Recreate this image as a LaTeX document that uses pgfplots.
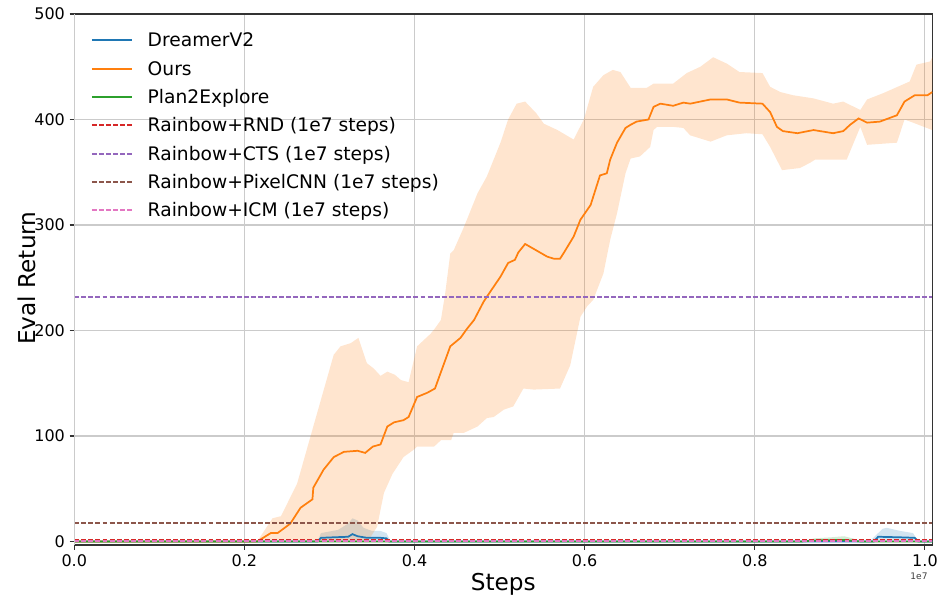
\documentclass[border=0pt]{standalone}
\usepackage{pgfplots}
\pgfplotsset{compat=1.18}
\usepackage{fontspec}
\setmainfont{DejaVu Sans}
\usetikzlibrary{calc}
\definecolor{tabBlue}{HTML}{1F77B4}
\definecolor{tabOrange}{HTML}{FF7F0E}
\definecolor{tabGreen}{HTML}{2CA02C}
\definecolor{tabRed}{HTML}{D62728}
\definecolor{tabPurple}{HTML}{9467BD}
\definecolor{tabBrown}{HTML}{8C564B}
\definecolor{tabPink}{HTML}{E377C2}
\definecolor{gridgray}{HTML}{CBCBCB}
\begin{document}
\begin{tikzpicture}
\begin{axis}[
  scale only axis,
  width=643.5pt, height=398.25pt,
  xmin=0, xmax=1.0086, ymin=-3.3, ymax=500,
  xtick={0,0.2,0.4,0.6,0.8,1.0},
  xticklabels={0.0,0.2,0.4,0.6,0.8,1.0},
  ytick={0,100,200,300,400,500},
  /pgf/number format/assume math mode=true,
  tick label style={font=\fontsize{12}{14}\selectfont},
  xtick pos=lower, ytick pos=left,
  tick align=outside,
  major tick length=3.5pt,
  tick style={black!80, line width=0.8pt},
  axis line style={black!80, line width=0.8pt},
  grid=major,
  major grid style={gridgray, line width=0.8pt},
  legend style={draw=none, fill=none, at={(axis description cs:0,1)}, anchor=north west,
    xshift=12.3pt, yshift=-13.5pt, inner sep=0pt,
    font=\fontsize{14}{16.8}\selectfont, row sep=7.25pt,
    nodes={inner sep=0pt, text height=11pt, text depth=3pt},
    /tikz/every odd column/.append style={column sep=11pt}},
  legend cell align=left,
  legend image code/.code={\draw[#1, line width=1.4pt] (0pt,1pt) -- (30.2pt,1pt);},
]
% bands
\addplot[draw=none, fill=tabBlue, fill opacity=0.2, forget plot] coordinates {
(0.286,0)(0.290,8)(0.310,11)(0.322,17)(0.327,22)(0.333,20)(0.340,13)(0.350,10)(0.360,10)(0.367,8)(0.372,0)} -- cycle;
\addplot[draw=none, fill=tabBlue, fill opacity=0.2, forget plot] coordinates {
(0.935,0)(0.945,8)(0.950,12)(0.955,13)(0.971,10)(0.986,8)(0.992,0)} -- cycle;
\addplot[draw=none, fill=tabOrange, fill opacity=0.2, forget plot] coordinates {
(0.215,0)(0.233,22)(0.243,24)(0.262,55)(0.281,109)(0.293,143)(0.305,177)(0.313,185)(0.325,188)(0.334,193)
(0.344,169)(0.352,164)(0.360,157)(0.368,161)(0.377,158)(0.384,153)(0.393,151)(0.403,185)(0.419,197)(0.424,202)
(0.431,210)(0.436,235)(0.442,273)(0.446,276)(0.458,298)(0.474,330)(0.485,346)(0.501,378)(0.510,400)(0.520,415)
(0.530,417)(0.543,406)(0.552,396)(0.568,390)(0.587,381)(0.599,400)(0.610,431)(0.622,442)(0.633,447)(0.642,445)
(0.654,430)(0.673,430)(0.681,434)(0.704,434)(0.720,444)(0.736,450)(0.751,459)(0.767,453)(0.782,445)(0.809,444)
(0.818,431)(0.830,426)(0.845,423)(0.869,420)(0.892,415)(0.904,417)(0.924,409)(0.932,419)(0.951,425)(0.982,436)
(0.990,452)(1.006,455)(1.0086,459)
(1.0086,390)(1.002,392)(0.986,397)(0.976,400)(0.967,378)(0.932,376)(0.924,393)(0.908,362)(0.871,362)(0.865,359)
(0.853,354)(0.832,352)(0.818,374)(0.809,386)(0.790,387)(0.767,385)(0.748,379)(0.724,385)(0.716,392)(0.704,393)
(0.685,393)(0.681,390)(0.677,374)(0.673,371)(0.665,365)(0.654,363)(0.648,349)(0.638,311)(0.630,286)(0.622,254)
(0.610,229)(0.603,223)(0.595,213)(0.583,167)(0.571,145)(0.540,144)(0.528,145)(0.516,128)(0.505,125)(0.493,118)
(0.485,117)(0.474,109)(0.458,103)(0.446,103)(0.443,96)(0.431,96)(0.423,90)(0.403,90)(0.399,87)(0.387,80)
(0.374,64)(0.364,46)(0.356,14)(0.345,0)(0.215,0)} -- cycle;
\addplot[draw=none, fill=tabGreen, fill opacity=0.2, forget plot] coordinates {
(0.855,0)(0.870,3)(0.890,4)(0.905,5)(0.915,3)(0.925,0)} -- cycle;
% lines
\addplot[tabBlue, line width=1.3pt] coordinates {
(0,0)(0.286,0)(0.290,3.5)(0.305,4)(0.322,4.5)(0.327,7)(0.333,5)(0.344,3.5)(0.360,3.5)(0.367,3)(0.370,0)
(0.940,0)(0.945,4.5)(0.970,4)(0.988,3.5)(0.992,0)(1.0086,0)};
\addlegendentry{DreamerV2}
\addplot[tabOrange, line width=1.3pt] coordinates {
(0,0)(0.215,0)(0.231,8)(0.239,8)(0.254,17)(0.266,32)(0.280,40)(0.281,51)(0.293,68)(0.305,80)
(0.317,85)(0.333,86)(0.342,84)(0.351,90)(0.360,92)(0.368,109)(0.376,113)(0.387,115)(0.393,118)(0.403,137)
(0.415,141)(0.424,145)(0.442,185)(0.454,193)(0.462,202)(0.470,210)(0.481,227)(0.485,232)(0.501,251)(0.510,264)
(0.518,267)(0.522,274)(0.530,282)(0.543,276)(0.556,270)(0.564,268)(0.571,268)(0.575,273)(0.587,289)(0.595,305)
(0.607,319)(0.618,347)(0.626,349)(0.630,362)(0.638,378)(0.648,392)(0.654,395)(0.661,398)(0.675,400)(0.681,412)
(0.689,415)(0.704,413)(0.716,416)(0.724,415)(0.748,419)(0.767,419)(0.782,416)(0.809,415)(0.818,407)(0.826,393)
(0.833,389)(0.850,387)(0.869,390)(0.892,387)(0.904,389)(0.912,395)(0.922,401)(0.932,397)(0.947,398)(0.967,404)
(0.976,417)(0.988,423)(1.003,423)(1.0086,426)};
\addlegendentry{Ours}
\addplot[tabGreen, line width=1.3pt] coordinates {
(0,0)(0.855,0)(0.870,1)(0.905,1.5)(0.925,0)(1.0086,0)};
\addlegendentry{Plan2Explore}
\addplot[tabRed, line width=1.2pt, dash pattern=on 3.7pt off 1.6pt] coordinates {(0,1.5)(1.0086,1.5)};
\addlegendentry{Rainbow+RND (1e7 steps)}
\addplot[tabPurple, line width=1.2pt, dash pattern=on 3.7pt off 1.6pt] coordinates {(0,232)(1.0086,232)};
\addlegendentry{Rainbow+CTS (1e7 steps)}
\addplot[tabBrown, line width=1.2pt, dash pattern=on 3.7pt off 1.6pt] coordinates {(0,17.5)(1.0086,17.5)};
\addlegendentry{Rainbow+PixelCNN (1e7 steps)}
\addplot[tabPink, line width=1.2pt, dash pattern=on 3.7pt off 1.6pt] coordinates {(0,0.5)(1.0086,0.5)};
\addlegendentry{Rainbow+ICM (1e7 steps)}
\end{axis}
\draw[gridgray, line width=0.9pt] (current axis.south west) -- (current axis.north west);
\node[anchor=base, font=\fontsize{17.4}{20}\selectfont] at ([yshift=-34.5pt]current axis.south) {Steps};
\node[anchor=base, rotate=90, font=\fontsize{17.4}{20}\selectfont] at ([xshift=-28.7pt,yshift=1pt]current axis.west) {Eval Return};
\node[anchor=base east, font=\fontsize{6.8}{8}\selectfont, text=black!75] at ([yshift=-26.25pt]current axis.south east) {1e7};
\pgfresetboundingbox
\path ($(current axis.south west)+(-55.7pt,-39.75pt)$) rectangle ($(current axis.north east)+(4.3pt,10.5pt)$);
\end{tikzpicture}
\end{document}
